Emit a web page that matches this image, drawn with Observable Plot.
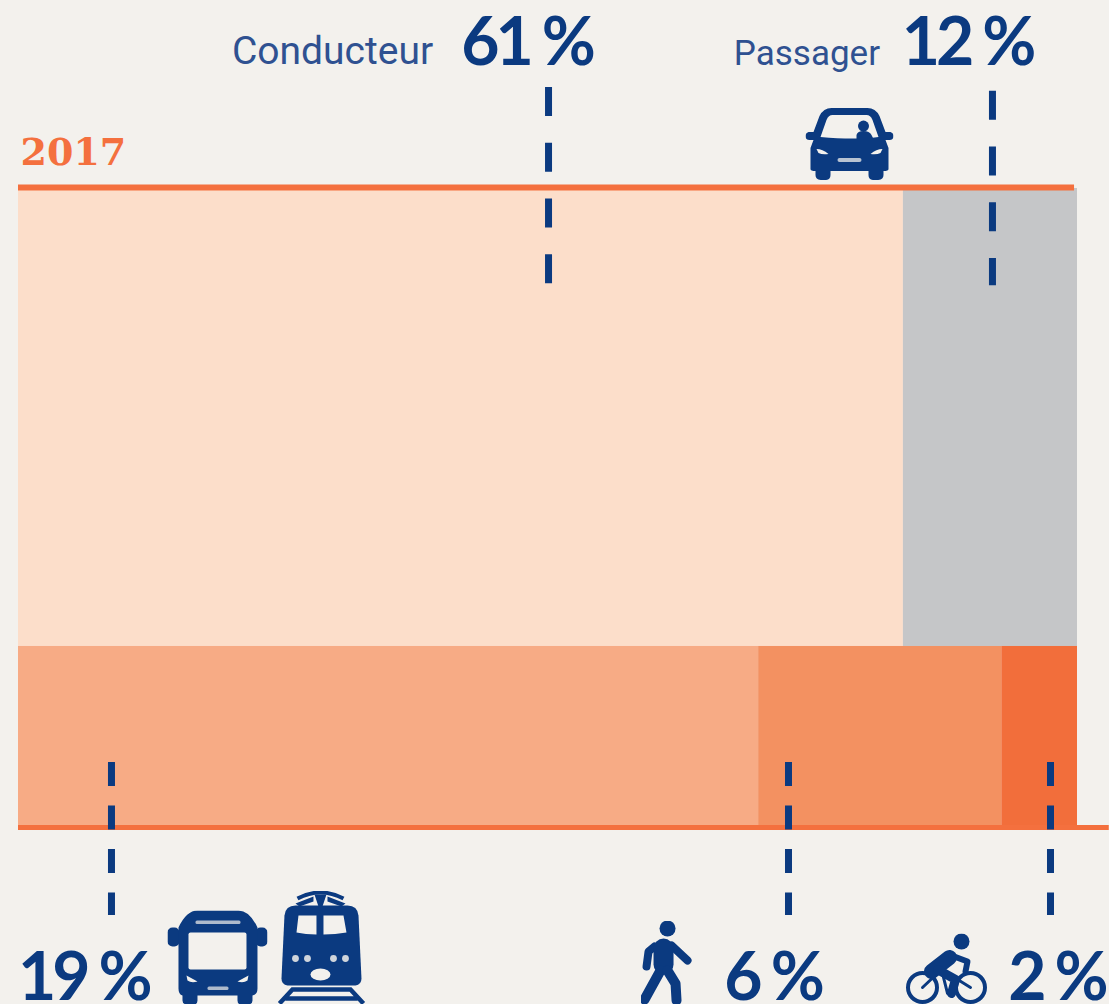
<!DOCTYPE html>
<html lang="fr">
<head>
<meta charset="utf-8">
<style>
html,body{margin:0;padding:0;background:#f3f1ed;overflow:hidden}
g[font-family="Lato"]{letter-spacing:-4px}
</style>
<script src="https://cdn.jsdelivr.net/npm/d3@7"></script>
<script src="https://cdn.jsdelivr.net/npm/@observablehq/plot@0.6"></script>
</head>
<body>
<script>
const navy = "#0b3a80";
const bg = "#f3f1ed";

// Share of trips: car row, then the other modes
const carModes = ["Conducteur", "Passager"];
const carValues = [61, 12];
const carColors = ["#fcdeca", "#c5c6c8"];
const otherModes = ["Transports en commun", "Marche", "Vélo"];
const otherValues = [18.87, 6.2, 1.93];
const otherColors = ["#f7ab85", "#f39161", "#f26e3b"];
const year = "2017";
const rowBoundary = 28.33;

function stackRow(names, values, colors, y1, y2) {
  const total = d3.sum(values);
  let run = 0;
  return names.map((name, i) => {
    const d = {name, x1: run / total, x2: (run + values[i]) / total, y1, y2, fill: colors[i]};
    run += values[i];
    return d;
  });
}
const cells = [
  ...stackRow(carModes, carValues, carColors, rowBoundary, 100),
  ...stackRow(otherModes, otherValues, otherColors, 0, rowBoundary)
];

// Labels and leaders, in scale units
const topLeaders = [{x: 0.5005, y1: 115.8, y2: 84.8}, {x: 0.9197, y1: 115.2, y2: 84.8}];
const bottomLeaders = [{x: 0.0878, y1: 10.17, y2: -13.77}, {x: 0.7271, y1: 10.17, y2: -13.77}, {x: 0.9745, y1: 10.17, y2: -13.77}];
const driverLabel = [{x: 0.2015, y: 119.56, text: carModes[0]}];
const passengerLabel = [{x: 0.6755, y: 119.25, text: carModes[1]}];
const numberLabels = [
  {x: 0.4180, y: 119.25, text: carValues[0] + " %"},
  {x: 0.8340, y: 119.25, text: carValues[1] + " %"},
  {x: -0.0005, y: -27.07, text: Math.round(otherValues[0]) + " %"},
  {x: 0.6665, y: -27.07, text: Math.round(otherValues[1]) + " %"},
  {x: 0.9345, y: -27.07, text: Math.round(otherValues[2]) + " %"}
];

function icon(w, h, body) {
  const svg = `<svg xmlns="http://www.w3.org/2000/svg" width="${w}" height="${h}" viewBox="0 0 ${w} ${h}">${body}</svg>`;
  return "data:image/svg+xml;charset=utf-8," + encodeURIComponent(svg);
}
const carIcon = icon(88, 72, `
  <path fill="${navy}" d="M26 0H62Q70 0 74 8L80 24 H85Q88 25 88 28Q88 32 84 32H80L83 40V61Q83 63 78 63V67Q78 72 72 72H68Q63 72 63 67V63H25V67Q25 72 20 72H16Q10 72 10 67V63Q5 63 5 61V40L8 32H4Q0 32 0 28Q0 25 3 24H8L14 8Q18 0 26 0Z"/>
  <path fill="${bg}" d="M27 7H61Q65 7 67 12L73 29Q50 32 15 29L21 12Q23 7 27 7Z"/>
  <circle cx="58" cy="18" r="5.5" fill="${navy}"/>
  <path fill="${navy}" d="M51 31V27Q52 23 58 23Q64 23 66 27L68 31Z"/>
  <path fill="${bg}" d="M11 41Q17 41 23 46Q17 47 13 45Z M77 41Q71 41 65 46Q71 47 75 45Z"/>
  <rect x="32" y="50" width="24" height="4" rx="2" fill="${bg}" opacity=".75"/>`);
const busIcon = icon(100, 94, `
  <rect x="0" y="17" width="12" height="19" rx="5" fill="${navy}"/>
  <rect x="88" y="17" width="12" height="19" rx="5" fill="${navy}"/>
  <path fill="${navy}" d="M30 0H71Q82 0 90 17V78Q90 84 85 85V90Q85 94 80 94H74Q70 94 70 90V85H30V90Q30 94 26 94H20Q15 94 15 90V85Q11 84 11 78V17Q19 0 30 0Z"/>
  <rect x="21" y="22" width="58" height="37" rx="2" fill="${bg}"/>
  <rect x="28" y="10" width="45" height="3.5" rx="1.5" fill="${bg}" opacity=".7"/>
  <path fill="${bg}" d="M19 65L30 71Q24 73 20 70Z M81 65L70 71Q76 73 80 70Z"/>
  <rect x="40" y="76" width="21" height="3.5" rx="1.5" fill="${bg}" opacity=".7"/>`);
const trainIcon = icon(88, 114, `
  <path fill="none" stroke="${navy}" stroke-width="4" d="M20 8Q43 -4 66 8"/>
  <path fill="${navy}" d="M37 4H49L45 16H41Z M18 13L36 6V11L22 16Z M68 13L50 6V11L64 16Z"/>
  <path fill="${navy}" d="M18 15H70Q80 15 81 25L84 88Q84 94 78 95H10Q4 94 4 88L7 25Q8 15 18 15Z"/>
  <path fill="${bg}" d="M21 25H39V44Q28 44 19 42Z M46 25H66L69 42Q58 44 46 44Z"/>
  <g fill="${bg}" opacity=".85"><circle cx="18" cy="68" r="3.4"/><circle cx="30" cy="68" r="3.4"/><circle cx="56" cy="68" r="3.4"/><circle cx="68" cy="68" r="3.4"/></g>
  <ellipse cx="43" cy="84" rx="10" ry="6" fill="${bg}"/>
  <path fill="none" stroke="${navy}" stroke-width="4.5" d="M2 113L15 99H73L86 113M8 108H80"/>`);
const walkerIcon = icon(53, 84, `
  <circle cx="27" cy="8" r="8" fill="${navy}"/>
  <g fill="none" stroke="${navy}" stroke-linecap="round" stroke-linejoin="round">
    <path stroke-width="8" d="M31 25L47 40"/>
    <path stroke-width="8" d="M14 26L8 31L6 46"/>
    <path stroke-width="20" d="M23 28V44"/>
    <path stroke-width="10" d="M20 50L4 79"/>
    <path stroke-width="10" d="M27 50L35 63L36 80"/>
  </g>`);
const cyclistIcon = icon(82, 71, `
  <circle cx="56" cy="8" r="8" fill="${navy}"/>
  <g fill="none" stroke="${navy}" stroke-linejoin="round" stroke-linecap="round">
    <circle cx="17" cy="54" r="14.5" stroke-width="4"/>
    <circle cx="65" cy="54" r="14.5" stroke-width="4"/>
    <path stroke-width="3" d="M17 54L36 36L65 54M36 36L42 60"/>
    <path stroke-width="15" d="M44 24L26 38"/>
    <path stroke-width="9" d="M32 36L50 46L46 60"/>
    <path stroke-width="6" d="M46 22L62 28L60 38"/>
  </g>`);
const icons = [
  {x: 0.7847, y: 106.96, w: 88, h: 72, src: carIcon},
  {x: 0.1879, y: -20.34, w: 100, h: 94, src: busIcon},
  {x: 0.2861, y: -18.78, w: 88, h: 114, src: trainIcon},
  {x: 0.6124, y: -21.13, w: 53, h: 84, src: walkerIcon},
  {x: 0.8763, y: -22.14, w: 82, h: 71, src: cyclistIcon}
];

const chart = Plot.plot({
  width: 1109,
  height: 1004,
  margin: 0,
  style: {background: bg, display: "block"},
  x: {domain: [0, 1], range: [18, 1077], axis: null},
  y: {domain: [0, 100], range: [827, 188], axis: null},
  marks: [
    Plot.rect(cells, {x1: "x1", x2: "x2", y1: "y1", y2: "y2", fill: "fill"}),
    Plot.ruleY([100.16], {x1: 0, x2: 0.9972, stroke: "#f4703e", strokeWidth: 6}),
    Plot.ruleY([0], {x1: 0, x2: 1.03, stroke: "#f4703e", strokeWidth: 5}),
    Plot.ruleX(topLeaders, {x: "x", y1: "y1", y2: "y2", stroke: navy, strokeWidth: 7, strokeDasharray: "29,26.7"}),
    Plot.ruleX(bottomLeaders, {x: "x", y1: "y1", y2: "y2", stroke: navy, strokeWidth: 7, strokeDasharray: "24,19.5"}),
    Plot.text(driverLabel, {x: "x", y: "y", text: "text", textAnchor: "start", lineAnchor: "bottom", fill: "#2f5191", fontFamily: "Roboto", fontSize: 39}),
    Plot.text(passengerLabel, {x: "x", y: "y", text: "text", textAnchor: "start", lineAnchor: "bottom", fill: "#2f5191", fontFamily: "Roboto", fontSize: 35}),
    Plot.text(numberLabels, {x: "x", y: "y", text: "text", textAnchor: "start", lineAnchor: "bottom", fill: navy, fontFamily: "Lato", fontWeight: 700, fontSize: 66}),
    Plot.text([year], {x: 0.0019, y: 103.6, text: d => d, textAnchor: "start", lineAnchor: "bottom", fill: "#f4703e", fontFamily: "DejaVu Serif", fontWeight: 700, fontSize: 38}),
    Plot.image(icons, {x: "x", y: "y", width: "w", height: "h", src: "src"})
  ]
});
document.body.appendChild(chart);
</script>
</body>
</html>
